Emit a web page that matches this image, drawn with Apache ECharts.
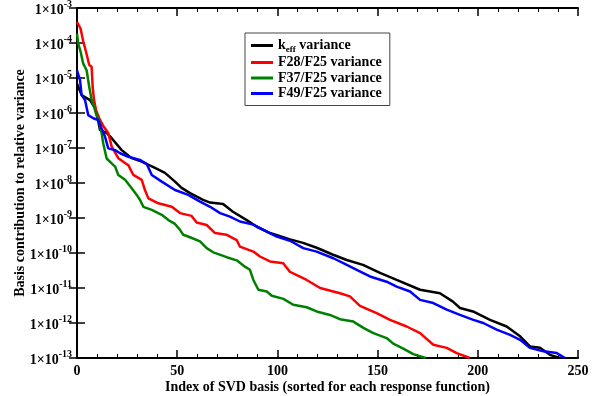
<!DOCTYPE html>
<html>
<head>
    <meta charset="utf-8" />
    <title>SVD basis contribution</title>
    <script src="https://cdn.jsdelivr.net/npm/echarts@6/dist/echarts.min.js"></script>
    <style>
        html, body { margin: 0; padding: 0; background: #fff; }
        #chart { width: 597px; height: 396px; }
    </style>
</head>
<body>
<div id="chart"></div>
<script>
// values: index of basis and log10 of the contribution
var keffIdx = [0, 2.3, 6.5, 9, 10.5, 11.5, 14.8, 17.3, 22.3, 27.3, 32.3, 38.9, 43.9, 48.9, 52.2, 56.4, 62.9, 66.4, 72.9, 77.8, 84.7, 89.7, 96.3, 106.3, 112.8, 119.6, 127.8, 134.6, 142.7, 151.2, 159.5, 171.2, 181.1, 187.6, 191.1, 197.6, 206.1, 214.4, 221.1, 226, 231, 236, 241];
var keffLog = [-5.16, -5.49, -5.63, -5.86, -6.2, -6.49, -6.57, -6.72, -7.06, -7.29, -7.39, -7.57, -7.71, -7.96, -8.14, -8.29, -8.48, -8.56, -8.6, -8.82, -9.06, -9.25, -9.43, -9.61, -9.71, -9.85, -10.05, -10.2, -10.34, -10.57, -10.77, -11.05, -11.15, -11.39, -11.57, -11.67, -11.91, -12.1, -12.38, -12.67, -12.71, -12.91, -13];

var f28Idx = [0, 1.8, 3.1, 4.5, 6.1, 7.3, 7.8, 8.5, 9.5, 11.1, 13.1, 15.6, 17.3, 20.6, 25.6, 28.1, 32.3, 33.9, 35.6, 40.6, 47.3, 51.4, 57.2, 59.7, 64.7, 68.9, 74.7, 79.7, 81.3, 88, 91.3, 96.3, 102.9, 106.3, 114.6, 121.3, 131.2, 136.2, 141.2, 149.5, 156.2, 164.5, 171.2, 177.8, 184.5, 189.5, 196];
var f28Log = [-3.4, -3.59, -3.95, -4.25, -4.63, -4.68, -5.25, -5.63, -5.92, -6.15, -6.37, -6.57, -6.96, -7.29, -7.49, -7.77, -7.91, -8.2, -8.44, -8.58, -8.68, -8.86, -8.94, -9.13, -9.2, -9.43, -9.48, -9.63, -9.82, -9.96, -10.1, -10.24, -10.29, -10.54, -10.77, -11, -11.15, -11.24, -11.51, -11.72, -11.91, -12.1, -12.29, -12.62, -12.71, -12.86, -13];

var f37Idx = [0, 0.6, 1.8, 3.1, 4.8, 6.1, 7.3, 8.5, 9.7, 11, 12.3, 13.1, 14.8, 17.3, 19, 20.6, 24, 27.3, 29.8, 31.4, 33.1, 37.3, 42.3, 45.6, 48.9, 51.4, 53, 56.4, 61.4, 64.7, 68, 74.7, 79.7, 83.8, 86.3, 88, 90.5, 94.7, 97.2, 103, 107.9, 114.6, 119.6, 126.2, 131.2, 137.9, 142.9, 147.9, 154.5, 157.8, 162.8, 167.8, 174];
var f37Log = [-3.73, -4.02, -4.25, -4.59, -4.78, -5.25, -5.63, -5.82, -6.06, -6.2, -6.58, -6.87, -7.3, -7.44, -7.53, -7.77, -7.91, -8.15, -8.34, -8.48, -8.68, -8.77, -8.91, -9.06, -9.17, -9.34, -9.48, -9.55, -9.67, -9.86, -9.98, -10.12, -10.21, -10.39, -10.48, -10.77, -11.05, -11.1, -11.22, -11.31, -11.48, -11.55, -11.67, -11.77, -11.89, -11.96, -12.14, -12.29, -12.43, -12.59, -12.73, -12.89, -13];

var f49Idx = [0, 1.5, 2.3, 4, 5.6, 8.1, 10.6, 12.3, 14, 15.6, 19, 21.5, 25.6, 31.4, 34.8, 37.3, 42.3, 48.9, 55.5, 61.4, 66.4, 71.4, 76.3, 81.3, 88, 94.7, 99.7, 106.3, 112.9, 119.6, 127.9, 132.9, 139.6, 146.2, 154.5, 159.5, 166.2, 171.2, 177.8, 184.5, 191.1, 197.8, 202.7, 209.4, 216.1, 221.1, 226, 232.7, 239.4, 243.5];
var f49Log = [-4.78, -5.06, -5.49, -5.63, -6.06, -6.15, -6.2, -6.44, -6.68, -7.01, -7.06, -7.15, -7.25, -7.34, -7.46, -7.77, -7.96, -8.2, -8.34, -8.53, -8.68, -8.86, -8.96, -9.1, -9.19, -9.39, -9.53, -9.65, -9.86, -9.96, -10.15, -10.29, -10.48, -10.67, -10.82, -10.96, -11.1, -11.34, -11.43, -11.62, -11.77, -11.91, -12, -12.19, -12.34, -12.48, -12.71, -12.81, -12.86, -13];

var seriesNames = ['keff', 'F28/F25 variance', 'F37/F25 variance', 'F49/F25 variance'];
var seriesColors = ['#000000', '#ff0000', '#008000', '#0000ff'];

function pairs(idx, lg) {
    var out = [];
    for (var i = 0; i < idx.length; i++) {
        out.push([idx[i], Math.pow(10, lg[i])]);
    }
    return out;
}

var font = 'Liberation Serif';
var allData = [pairs(keffIdx, keffLog), pairs(f28Idx, f28Log), pairs(f37Idx, f37Log), pairs(f49Idx, f49Log)];

var chart = echarts.init(document.getElementById('chart'));

var series = [];
for (var s = 0; s < 4; s++) {
    series.push({
        name: seriesNames[s],
        type: 'line',
        data: allData[s],
        showSymbol: false,
        symbol: 'none',
        animation: false,
        lineStyle: { color: seriesColors[s], width: 2.5 },
        itemStyle: { color: seriesColors[s] }
    });
}

var option = {
    backgroundColor: '#fff',
    animation: false,
    grid: { left: 77, right: 19, top: 8, bottom: 38, containLabel: false, outerBoundsMode: 'none' },
    legend: {
        left: 245, top: 33,
        orient: 'vertical',
        backgroundColor: '#fff',
        borderColor: '#444',
        borderWidth: 1,
        padding: [4, 8, 5, 6],
        itemGap: 1.5,
        itemWidth: 22,
        itemHeight: 3,
        icon: 'rect',
        data: seriesNames,
        formatter: function (name) {
            if (name === 'keff') return '{b|k}{sub|eff}{b| variance}';
            return '{b|' + name + '}';
        },
        textStyle: {
            fontFamily: font, fontWeight: 'bold', fontSize: 14, color: '#000',
            rich: {
                b: { fontFamily: font, fontWeight: 'bold', fontSize: 14, color: '#000', lineHeight: 14.5, verticalAlign: 'middle' },
                sub: { fontFamily: font, fontWeight: 'bold', fontSize: 9, color: '#000', verticalAlign: 'middle', padding: [8, 0, 0, 0], lineHeight: 15 }
            }
        }
    },
    xAxis: [{
        type: 'value',
        min: 0, max: 250, interval: 50,
        name: 'Index of SVD basis (sorted for each response function)',
        nameLocation: 'middle',
        nameGap: 22,
        nameMoveOverlap: false,
        nameTextStyle: { fontFamily: font, fontWeight: 'bold', fontSize: 14, color: '#000' },
        axisLine: { lineStyle: { color: '#000', width: 2 } },
        axisTick: { inside: true, length: 8, lineStyle: { color: '#000', width: 1.5 } },
        minorTick: { show: true, splitNumber: 5, length: 4, lineStyle: { color: '#000', width: 1 } },
        axisLabel: { fontFamily: font, fontWeight: 'bold', fontSize: 14, color: '#000', margin: 6 },
        splitLine: { show: false }
    }, {
        type: 'value',
        position: 'top',
        min: 0, max: 250, interval: 50,
        axisLine: { lineStyle: { color: '#000', width: 2 } },
        axisTick: { inside: true, length: 8, lineStyle: { color: '#000', width: 1.5 } },
        minorTick: { show: true, splitNumber: 5, length: 4, lineStyle: { color: '#000', width: 1 } },
        axisLabel: { show: false },
        splitLine: { show: false }
    }],
    yAxis: [{
        type: 'log',
        logBase: 10,
        min: 1e-13, max: 1e-3,
        name: 'Basis contribution to relative variance',
        nameLocation: 'middle',
        nameGap: 50,
        nameMoveOverlap: false,
        nameTextStyle: { fontFamily: font, fontWeight: 'bold', fontSize: 14, color: '#000' },
        axisLine: { lineStyle: { color: '#000', width: 2 } },
        axisTick: { inside: true, length: 8, lineStyle: { color: '#000', width: 1.5 } },
        axisLabel: {
            margin: 5,
            formatter: function (v) {
                var e = Math.round(Math.log10(v));
                return '{b|1\u00d710}{s|' + e + '}';
            },
            rich: {
                b: { fontFamily: font, fontWeight: 'bold', fontSize: 14, color: '#000', verticalAlign: 'bottom', lineHeight: 18 },
                s: { fontFamily: font, fontWeight: 'bold', fontSize: 10, color: '#000', verticalAlign: 'top', padding: [0, 0, 8, 0], lineHeight: 18 }
            }
        },
        splitLine: { show: false }
    }, {
        type: 'log',
        logBase: 10,
        position: 'right',
        min: 1e-13, max: 1e-3,
        axisLine: { lineStyle: { color: '#000', width: 2 } },
        axisTick: { inside: true, length: 8, lineStyle: { color: '#000', width: 1.5 } },
        axisLabel: { show: false },
        splitLine: { show: false }
    }],
    series: series
};

chart.setOption(option);
</script>
</body>
</html>
